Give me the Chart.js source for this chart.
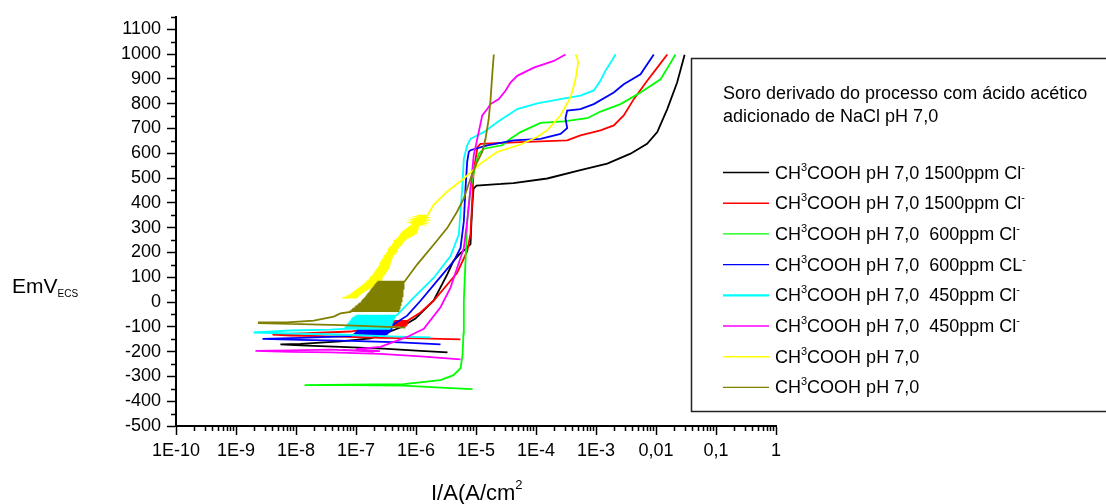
<!DOCTYPE html>
<html>
<head>
<meta charset="utf-8">
<script src="https://cdn.jsdelivr.net/npm/chart.js@4.4.1/dist/chart.umd.min.js"></script>
<style>
  html, body { margin: 0; padding: 0; background: #ffffff; }
  #wrap { width: 1106px; height: 504px; }
</style>
</head>
<body>
<div id="wrap"><canvas id="chart" width="1106" height="504"></canvas></div>
<script>
// Potentiodynamic polarization curves: current density (A/cm²) vs potential (mV vs ECS)

const xTickValues = [1e-10, 1e-9, 1e-8, 1e-7, 1e-6, 1e-5, 1e-4, 1e-3, 1e-2, 1e-1, 1];
const xTickLabels = ['1E-10', '1E-9', '1E-8', '1E-7', '1E-6', '1E-5', '1E-4', '1E-3', '0,01', '0,1', '1'];
const yTickValues = [-500, -400, -300, -200, -100, 0, 100, 200, 300, 400, 500, 600, 700, 800, 900, 1000, 1100];

const legendTitleLines = ['Soro derivado do processo com ácido acético', 'adicionado de NaCl pH 7,0'];
const seriesLabels = [
  'CH³COOH pH 7,0 1500ppm Cl⁻',
  'CH³COOH pH 7,0 1500ppm Cl⁻',
  'CH³COOH pH 7,0  600ppm Cl⁻',
  'CH³COOH pH 7,0  600ppm CL⁻',
  'CH³COOH pH 7,0  450ppm Cl⁻',
  'CH³COOH pH 7,0  450ppm Cl⁻',
  'CH³COOH pH 7,0',
  'CH³COOH pH 7,0'
];
const seriesColors = ['#000000', '#ff0000', '#00ff00', '#0000ff', '#00ffff', '#ff00ff', '#ffff00', '#808000'];

// --- 1500 ppm Cl- (black) ---
const blackI = [3.35e-6, 1.19e-6, 2.87e-7, 5.5e-8, 1.2e-8, 5.5e-9, 1.2e-8, 5.5e-8, 1.75e-7, 3.35e-7, 5.5e-7, 9.8e-7,
  1.96e-6, 3.35e-6, 4.2e-6, 5.5e-6, 6.7e-6, 8.1e-6, 8.4e-6, 8.75e-6, 9.1e-6, 1.02e-5, 1.75e-5, 3.6e-5, 2.6e-5, 4.2e-5,
  1.54e-4, 5.5e-4, 1.54e-3, 3.76e-3, 7.1e-3, 1.05e-2, 1.54e-2, 2.25e-2, 3.0e-2];
const blackE = [-203, -197, -188, -181, -175, -171, -169, -159, -147, -123, -103, -67,
  5, 113, 165, 197, 213, 233, 325, 405, 457, 469, 473, 478, 476, 479,
  498, 532, 558, 598, 638, 685, 778, 885, 997];

// --- 1500 ppm Cl- (red) ---
const redLowI = [5.5e-6, 1.19e-6, 2.56e-7, 3.76e-8, 8.1e-9, 4.06e-9, 1.2e-8, 8.1e-8];
const redLowE = [-151, -147, -145, -139, -135, -131, -127, -119];
const redHatchE = [-96, -92, -88, -84, -80, -76];
const redHatchL = [2.87e-7, 2.87e-7, 2.98e-7, 3.10e-7, 3.22e-7, 3.48e-7];
const redHatchR = [6.93e-7, 7.20e-7, 7.20e-7, 7.49e-7, 7.49e-7, 7.20e-7];
const redHighI = [1.19e-6, 1.96e-6, 4.86e-6, 7.13e-6, 8.1e-6, 8.65e-6, 9.1e-6, 1.06e-5, 1.19e-5, 5.5e-5, 3.31e-4, 5.5e-4,
  1.19e-3, 1.98e-3, 2.9e-3, 4.26e-3, 7.13e-3, 1.05e-2, 1.54e-2];
const redHighE = [-42, 5, 118, 205, 273, 405, 525, 625, 638, 645, 652, 672,
  692, 712, 752, 818, 892, 945, 998];

// --- 600 ppm Cl- (green) ---
const greenI = [8.75e-6, 2.56e-6, 6.19e-7, 8.1e-8, 1.39e-8, 8.1e-8, 6.19e-7, 2.56e-6, 4.22e-6, 5.52e-6, 5.96e-6, 6.19e-6,
  6.27e-6, 7.13e-6, 8.1e-6, 9.8e-6, 1.11e-5, 1.35e-5, 2.73e-5, 3.76e-5, 5.5e-5, 1.19e-4, 2.9e-4, 7.13e-4,
  1.19e-3, 2.56e-3, 5.52e-3, 1.19e-2, 1.63e-2, 2.11e-2];
const greenE = [-351, -345, -337, -335, -335, -333, -331, -315, -295, -267, -215, -127,
  5, 325, 458, 552, 598, 618, 632, 658, 685, 722, 728, 741,
  768, 798, 845, 898, 952, 998];

// --- 600 ppm CL- (blue) ---
const blueLowI = [2.56e-6, 5.5e-7, 8.1e-8, 1.19e-8, 2.77e-9, 1.19e-8, 8.1e-8];
const blueLowE = [-171, -163, -157, -153, -149, -145, -138];
const blueHatchE = [-134, -130, -126, -122, -118, -114, -110, -106, -102, -98];
const blueHatchL = [8.74e-8, 9.08e-8, 9.44e-8, 9.81e-8, 1.02e-7, 1.06e-7, 1.10e-7, 1.19e-7, 1.28e-7, 1.50e-7];
const blueHatchR = [3.10e-7, 3.35e-7, 3.48e-7, 3.61e-7, 3.75e-7, 3.90e-7, 4.05e-7, 4.05e-7, 3.90e-7, 3.75e-7];
const blueHighI = [7.13e-7, 1.19e-6, 2.25e-6, 4.26e-6, 5.52e-6, 6.27e-6, 6.68e-6, 7.13e-6, 7.59e-6, 8.1e-6, 1.54e-5, 4.26e-5,
  1.19e-4, 2.56e-4, 3.31e-4, 3.1e-4, 3.31e-4, 5.5e-4, 9.18e-4, 1.98e-3, 2.9e-3, 5.52e-3, 9.18e-3];
const blueHighE = [-55, 5, 85, 165, 218, 325, 458, 565, 605, 612, 632, 652,
  658, 678, 701, 741, 772, 778, 798, 845, 878, 918, 998];

// --- 450 ppm Cl- (cyan) ---
const cyanLowI = [1.75e-6, 3.76e-7, 5.5e-8, 8.1e-9, 1.96e-9, 8.1e-9, 3.76e-8];
const cyanLowE = [-143, -139, -131, -127, -123, -115, -111];
const cyanHatchE = [-108, -103, -98, -93, -88, -83, -78, -73, -68, -63, -58, -55];
const cyanHatchL = [6.19e-8, 6.43e-8, 6.68e-8, 6.95e-8, 7.22e-8, 7.50e-8, 7.79e-8, 8.10e-8, 8.41e-8, 8.74e-8, 9.44e-8, 1.02e-7];
const cyanHatchR = [3.75e-7, 3.90e-7, 3.90e-7, 4.05e-7, 4.05e-7, 4.21e-7, 4.21e-7, 4.38e-7, 4.38e-7, 4.55e-7, 4.55e-7, 4.73e-7];
const cyanHighI = [9.18e-7, 1.98e-6, 3.76e-6, 5.17e-6, 5.89e-6, 6.27e-6, 7.13e-6, 8.1e-6, 1.35e-5, 2.25e-5, 4.86e-5,
  1.05e-4, 2.56e-4, 5.5e-4, 9.18e-4, 1.19e-3, 1.44e-3, 1.75e-3, 2.11e-3];
const cyanHighE = [18, 98, 185, 272, 458, 578, 632, 658, 685, 725, 778,
  801, 818, 832, 853, 893, 933, 965, 998];

// --- 450 ppm Cl- (magenta) ---
const magentaI = [5.52e-6, 1.19e-6, 2.56e-7, 3.76e-8, 8.1e-9, 2.11e-9, 8.1e-9, 3.76e-8,
  2.0e-7, 6.0e-8, 2.5e-7, 1.0e-7, 2.56e-7,
  7.13e-7, 1.35e-6, 2.56e-6, 3.76e-6, 4.86e-6, 6.27e-6, 7.13e-6, 8.1e-6, 9.18e-6, 1.05e-5, 1.27e-5,
  1.54e-5, 1.75e-5, 2.4e-5, 3.1e-5, 3.76e-5, 4.86e-5, 9.18e-5, 1.98e-4, 3.1e-4];
const magentaE = [-231, -219, -209, -203, -201, -197, -195, -192,
  -200, -193, -198, -190, -181,
  -141, -108, -21, 58, 138, 218, 325, 458, 592, 658, 752,
  778, 798, 818, 852, 885, 912, 945, 972, 998];

// --- pH 7,0 without chloride (yellow) ---
const yellowHatchE = [18, 24, 30, 36, 42, 48, 54, 60, 66, 72, 78, 84, 90, 96, 102, 108, 114, 120, 126, 132,
  138, 144, 150, 156, 162, 168, 174, 180, 186, 192, 198, 204, 210, 216, 222, 228, 234, 240, 246, 252,
  258, 264, 270, 276, 282, 288, 294, 300, 306, 312, 318, 324, 330, 336, 342, 348];
const yellowHatchL = [5.96e-8, 6.95e-8, 7.79e-8, 8.41e-8, 9.08e-8, 9.81e-8, 1.06e-7, 1.14e-7, 1.23e-7, 1.33e-7,
  1.44e-7, 1.50e-7, 1.62e-7, 1.68e-7, 1.74e-7, 1.88e-7, 1.96e-7, 2.03e-7, 2.11e-7, 2.19e-7,
  2.28e-7, 2.37e-7, 2.46e-7, 2.46e-7, 2.56e-7, 2.66e-7, 2.76e-7, 2.87e-7, 2.87e-7, 3.10e-7,
  3.22e-7, 3.35e-7, 3.35e-7, 3.48e-7, 3.61e-7, 3.90e-7, 4.05e-7, 4.21e-7, 4.21e-7, 4.55e-7,
  4.91e-7, 5.10e-7, 5.30e-7, 5.51e-7, 5.72e-7, 6.18e-7, 6.67e-7, 7.20e-7, 7.78e-7, 8.40e-7,
  9.07e-7, 9.42e-7, 9.79e-7, 1.02e-6, 1.10e-6, 1.19e-6];
const yellowHatchR = [1.06e-7, 1.10e-7, 1.19e-7, 1.28e-7, 1.39e-7, 1.55e-7, 1.74e-7, 1.88e-7, 2.11e-7, 2.37e-7,
  2.56e-7, 2.66e-7, 2.76e-7, 2.76e-7, 2.87e-7, 2.98e-7, 3.10e-7, 3.22e-7, 3.35e-7, 3.48e-7,
  3.61e-7, 3.61e-7, 3.75e-7, 3.75e-7, 3.90e-7, 3.90e-7, 4.05e-7, 4.05e-7, 4.21e-7, 4.38e-7,
  4.73e-7, 4.91e-7, 4.91e-7, 5.10e-7, 5.30e-7, 5.72e-7, 5.95e-7, 6.18e-7, 6.42e-7, 6.93e-7,
  7.49e-7, 8.40e-7, 9.42e-7, 1.02e-6, 1.06e-6, 1.06e-6, 1.10e-6, 1.10e-6, 1.14e-6, 1.19e-6,
  1.23e-6, 1.28e-6, 1.33e-6, 1.38e-6, 1.44e-6, 1.55e-6];
const yellowHighI = [1.98e-6, 3.31e-6, 6.27e-6, 1.19e-5, 2.25e-5, 5.52e-5, 1.05e-4, 1.54e-4, 2.56e-4, 3.76e-4,
  4.55e-4, 5.05e-4, 4.86e-4, 4.55e-4];
const yellowHighE = [393, 445, 498, 558, 605, 635, 665, 693, 752, 825,
  898, 965, 985, 998];

// --- pH 7,0 without chloride (olive) ---
const oliveLowI = [6.68e-7, 2.56e-7, 5.5e-8, 1.19e-8, 2.4e-9, 2.4e-9, 7.13e-9, 1.98e-8, 4.26e-8, 5.5e-8, 8.1e-8];
const oliveLowE = [-103, -99, -93, -89, -85, -82, -82, -75, -59, -46, -40];
const oliveHatchE = [-37, -32, -27, -22, -17, -12, -7, -2, 3, 8, 13, 18, 23, 28, 33, 38, 43, 48, 53, 58,
  63, 68, 73, 78, 82];
const oliveHatchL = [8.10e-8, 8.41e-8, 8.74e-8, 9.44e-8, 9.81e-8, 1.06e-7, 1.10e-7, 1.19e-7, 1.23e-7, 1.28e-7,
  1.33e-7, 1.39e-7, 1.44e-7, 1.50e-7, 1.55e-7, 1.62e-7, 1.68e-7, 1.74e-7, 1.81e-7, 1.88e-7,
  1.96e-7, 2.03e-7, 2.11e-7, 2.19e-7, 2.28e-7];
const oliveHatchR = [5.30e-7, 5.30e-7, 5.51e-7, 5.51e-7, 5.51e-7, 5.72e-7, 5.72e-7, 5.72e-7, 5.95e-7, 5.95e-7,
  5.95e-7, 5.95e-7, 6.18e-7, 6.18e-7, 6.18e-7, 6.18e-7, 6.18e-7, 6.18e-7, 6.42e-7, 6.42e-7,
  6.42e-7, 6.42e-7, 6.42e-7, 6.42e-7, 6.42e-7];
const oliveHighI = [1.05e-6, 1.98e-6, 3.31e-6, 4.86e-6, 6.27e-6, 8.1e-6, 1.05e-5, 1.27e-5, 1.44e-5, 1.63e-5, 1.75e-5,
  1.86e-5, 1.98e-5];
const oliveHighE = [152, 232, 298, 365, 418, 498, 565, 605, 658, 738, 818, 912, 998];

const FONT = "'Liberation Sans', Arial, Helvetica, sans-serif";

function toPoints(I, E) {
  return I.map((v, i) => ({ x: v, y: E[i] }));
}
// A noisy stretch of the sweep: at each potential the current swings from the left value to the right one
function swingPoints(E, L, R) {
  const out = [];
  E.forEach((e, i) => { out.push({ x: L[i], y: e }, { x: R[i], y: e }); });
  return out;
}

const seriesPoints = [
  toPoints(blackI, blackE),
  [...toPoints(redLowI, redLowE), ...swingPoints(redHatchE, redHatchL, redHatchR), ...toPoints(redHighI, redHighE)],
  toPoints(greenI, greenE),
  [...toPoints(blueLowI, blueLowE), ...swingPoints(blueHatchE, blueHatchL, blueHatchR), ...toPoints(blueHighI, blueHighE)],
  [...toPoints(cyanLowI, cyanLowE), ...swingPoints(cyanHatchE, cyanHatchL, cyanHatchR), ...toPoints(cyanHighI, cyanHighE)],
  toPoints(magentaI, magentaE),
  [...swingPoints(yellowHatchE, yellowHatchL, yellowHatchR), ...toPoints(yellowHighI, yellowHighE)],
  [...toPoints(oliveLowI, oliveLowE), ...swingPoints(oliveHatchE, oliveHatchL, oliveHatchR), ...toPoints(oliveHighI, oliveHighE)]
];

const datasets = seriesLabels.map((label, i) => ({
  label: label,
  data: seriesPoints[i],
  borderColor: seriesColors[i],
  backgroundColor: seriesColors[i],
  borderWidth: 1.8,
  pointRadius: 0,
  pointHoverRadius: 0,
  showLine: true,
  fill: false,
  tension: 0,
  order: seriesLabels.length - 1 - i
}));

// Draw a string where ³ ² ⁻ are rendered as raised small glyphs
const SUPERS = { '³': '3', '²': '2', '⁻': '-' };
function drawRich(ctx, text, x, baseline, size, supSize, raise) {
  let cx = x;
  let run = '';
  const flush = () => {
    if (!run) return;
    ctx.font = size + 'px ' + FONT;
    ctx.fillText(run, cx, baseline);
    cx += ctx.measureText(run).width;
    run = '';
  };
  for (const ch of text) {
    if (SUPERS[ch] !== undefined) {
      flush();
      ctx.font = supSize + 'px ' + FONT;
      ctx.fillText(SUPERS[ch], cx, baseline - raise);
      cx += ctx.measureText(SUPERS[ch]).width;
    } else {
      run += ch;
    }
  }
  flush();
  return cx;
}

const decorations = {
  id: 'decorations',
  afterDraw(chart) {
    const ctx = chart.ctx;
    const xs = chart.scales.x;
    const ys = chart.scales.y;
    const area = chart.chartArea;
    ctx.save();

    // minor tick marks
    ctx.strokeStyle = '#000';
    ctx.lineWidth = 1.5;
    ctx.beginPath();
    for (let v = -450; v <= 1150; v += 100) {
      const py = Math.round(ys.getPixelForValue(v)) + 0.5;
      ctx.moveTo(area.left - 5, py);
      ctx.lineTo(area.left, py);
    }
    for (let d = 0; d < xTickValues.length - 1; d++) {
      for (let k = 2; k <= 9; k++) {
        const px = Math.round(xs.getPixelForValue(k * xTickValues[d])) + 0.5;
        ctx.moveTo(px, area.bottom);
        ctx.lineTo(px, area.bottom + 5);
      }
    }
    ctx.stroke();

    ctx.fillStyle = '#000';
    ctx.textBaseline = 'alphabetic';
    ctx.textAlign = 'left';

    // axis titles
    ctx.font = '21px ' + FONT;
    ctx.fillText('EmV', 12, 293);
    const w = ctx.measureText('EmV').width;
    ctx.font = '10px ' + FONT;
    ctx.fillText('ECS', 12 + w, 297);
    drawRich(ctx, 'I/A(A/cm²', 431, 500, 22, 13, 11);

    // legend box
    ctx.strokeStyle = '#222';
    ctx.lineWidth = 1.5;
    ctx.strokeRect(691.5, 58.5, 440, 353);

    ctx.font = '18px ' + FONT;
    legendTitleLines.forEach((t, i) => ctx.fillText(t, 723, 98.5 + i * 23.5));

    chart.data.datasets.forEach((ds, i) => {
      const base = 178.5 + i * 30.7;
      ctx.strokeStyle = ds.borderColor;
      ctx.lineWidth = i === 4 ? 2.2 : 1.4;
      ctx.beginPath();
      ctx.moveTo(723, base - 6);
      ctx.lineTo(769, base - 6);
      ctx.stroke();
      ctx.fillStyle = '#000';
      drawRich(ctx, ds.label, 775, base, 18, 11, 8);
    });
    ctx.restore();
  }
};

new Chart(document.getElementById('chart'), {
  type: 'scatter',
  data: { datasets: datasets },
  options: {
    responsive: false,
    animation: false,
    devicePixelRatio: 1,
    layout: { padding: { left: 0, right: 330, top: 14, bottom: 0 } },
    plugins: { legend: { display: false }, tooltip: { enabled: false } },
    events: [],
    scales: {
      x: {
        type: 'logarithmic',
        position: 'bottom',
        min: 1e-10,
        max: 1,
        afterBuildTicks: (s) => { s.ticks = xTickValues.map(v => ({ value: v })); },
        afterFit: (s) => { s.height = 78; },
        ticks: {
          autoSkip: false, maxRotation: 0, minRotation: 0, padding: 5, color: '#000',
          font: { family: FONT, size: 18 },
          callback: (v, i) => xTickLabels[i]
        },
        grid: { display: true, drawOnChartArea: false, drawTicks: true, tickLength: 9, tickWidth: 1.5, tickColor: '#000' },
        border: { display: true, color: '#000', width: 2 }
      },
      y: {
        type: 'linear',
        position: 'left',
        min: -500,
        max: 1150,
        afterBuildTicks: (s) => { s.ticks = yTickValues.map(v => ({ value: v })); },
        afterFit: (s) => { s.width = 176; },
        ticks: {
          padding: 6, color: '#000',
          font: { family: FONT, size: 18 },
          callback: (v) => String(v)
        },
        grid: { display: true, drawOnChartArea: false, drawTicks: true, tickLength: 9, tickWidth: 1.5, tickColor: '#000' },
        border: { display: true, color: '#000', width: 2 }
      }
    }
  },
  plugins: [decorations]
});
</script>
</body>
</html>
